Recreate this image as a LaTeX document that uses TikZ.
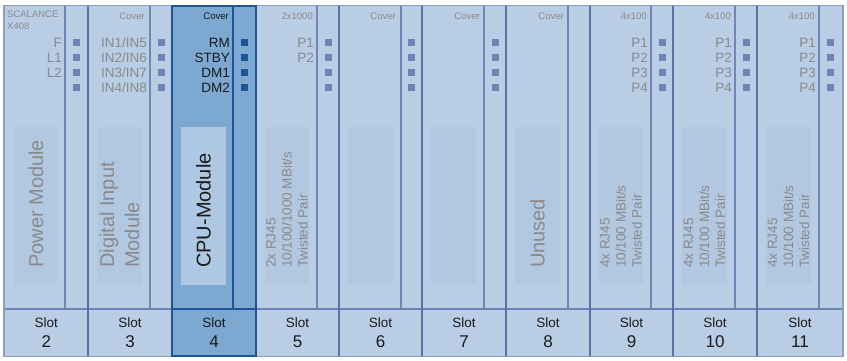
\documentclass[tikz,border=0pt]{standalone}
\usepackage{fontspec}
\setmainfont{Liberation Sans}
\definecolor{bgfill}{HTML}{B9CDE5}
\definecolor{lboxfill}{HTML}{B2C7E0}
\definecolor{sepcol}{HTML}{5B6FA6}
\definecolor{divcol}{HTML}{6F86B9}
\definecolor{framecol}{HTML}{8E9CC4}
\definecolor{ledcol}{HTML}{6F84B5}
\definecolor{graytext}{HTML}{8A8A8A}
\definecolor{darktext}{HTML}{1A1A1A}
\definecolor{cpufill}{HTML}{7CA8D2}
\definecolor{cpulbox}{HTML}{AEC8E3}
\definecolor{cpuborder}{HTML}{1E5597}
\begin{document}
\begin{tikzpicture}[x=1pt,y=-1pt,
  sepline/.style={draw=sepcol, line width=2pt},
  divline/.style={draw=divcol, line width=1.2pt},
  ledsq/.style={rectangle, fill=ledcol, minimum size=7pt, inner sep=0pt, draw=none},
  ledlbl/.style={anchor=east, inner sep=0pt, text=graytext, font=\fontsize{13.5}{15}\selectfont},
  toplbl/.style={anchor=east, inner sep=0pt, text=graytext, font=\fontsize{9.5}{11.5}\selectfont},
  biglbl/.style={rotate=90, anchor=west, inner sep=0pt, align=left, text=graytext, font=\fontsize{20}{25}\selectfont},
  smalllbl/.style={rotate=90, anchor=west, inner sep=0pt, align=left, text=graytext, font=\fontsize{13.5}{16}\selectfont},
  slotword/.style={inner sep=0pt, text=darktext, font=\fontsize{13.5}{16}\selectfont},
  slotnum/.style={inner sep=0pt, text=darktext, font=\fontsize{17}{20}\selectfont}
]
\useasboundingbox (0,0) rectangle (847,361);
% background and frame
\fill[bgfill] (4,6) rectangle (843,356);
% label boxes
\foreach \L/\D in {4.5/65, 88/150, 256/317, 339/401, 422/484, 506/568, 590/651, 673/735, 757/819}
  \fill[lboxfill] (\L+9,127) rectangle (\D-8,285);
% thin dividers
\foreach \D in {65,150,317,401,484,568,651,735,819}
  \draw[divline] (\D,6) -- (\D,309);
% horizontal line above slot row
\draw[divline] (4,309) -- (843,309);
% slot separators
\foreach \X in {88,172,256,339,422,506,590,673,757}
  \draw[sepline] (\X,6) -- (\X,356);
\draw[framecol, line width=1.6pt] (4,5.5) rectangle (843,356.5);

% CPU slot
\fill[cpufill] (172,6) rectangle (256,356);
\fill[cpulbox] (181,127) rectangle (226,285);
\draw[cpuborder, line width=2pt] (233,6) -- (233,309);
\draw[cpuborder, line width=2pt] (172,309) -- (256,309);
\draw[cpuborder, line width=2.6pt] (172,6) rectangle (256,356);

% LED squares
\foreach \s/\c in {2/76.5, 3/161, 5/328, 6/411.5, 7/495, 9/662, 10/746, 11/830.5}
  \foreach \r/\y in {1/42.7, 2/57.8, 3/72.9, 4/88}
    \node[ledsq] (led\s-\r) at (\c,\y) {};
\foreach \r/\y in {1/42.7, 2/57.8, 3/72.9, 4/88}
  \node[ledsq, fill=cpuborder] (led4-\r) at (244.5,\y) {};

% top labels
\node[anchor=north west, inner sep=0pt, align=left, text=graytext, font=\fontsize{9.5}{12}\selectfont] (top2) at (7,10.5) {SCALANCE\\X408};
\node[toplbl] (top3) at (145,16) {Cover};
\node[toplbl, text=darktext] (top4) at (229,16) {Cover};
\node[toplbl] (top5) at (313,16) {2x1000};
\node[toplbl] (top6) at (396,16) {Cover};
\node[toplbl] (top7) at (480,16) {Cover};
\node[toplbl] (top8) at (564,16) {Cover};
\node[toplbl] (top9) at (647,16) {4x100};
\node[toplbl] (top10) at (731,16) {4x100};
\node[toplbl] (top11) at (815,16) {4x100};

% LED labels
\foreach \r/\y/\t in {1/42.7/F, 2/57.8/L1, 3/72.9/L2}
  \node[ledlbl] (lbl2-\r) at (62,\y) {\t};
\foreach \r/\y/\t in {1/42.7/{IN1/IN5}, 2/57.8/{IN2/IN6}, 3/72.9/{IN3/IN7}, 4/88/{IN4/IN8}}
  \node[ledlbl] (lbl3-\r) at (147,\y) {\t};
\foreach \r/\y/\t in {1/42.7/RM, 2/57.8/STBY, 3/72.9/DM1, 4/88/DM2}
  \node[ledlbl, text=darktext] (lbl4-\r) at (230,\y) {\t};
\foreach \r/\y/\t in {1/42.7/P1, 2/57.8/P2}
  \node[ledlbl] (lbl5-\r) at (314,\y) {\t};
\foreach \s/\D in {9/651, 10/735, 11/819}
  \foreach \r/\y/\t in {1/42.7/P1, 2/57.8/P2, 3/72.9/P3, 4/88/P4}
    \node[ledlbl] (lbl\s-\r) at (\D-3,\y) {\t};

% rotated module labels
\node[biglbl] (mod2) at (36,268) {Power Module};
\node[biglbl] (mod3) at (119.5,268) {Digital Input\\Module};
\node[biglbl, text=darktext] (mod4) at (203.5,268) {CPU-Module};
\node[smalllbl] (mod5) at (287,268) {2x RJ45\\10/100/1000 MBit/s\\Twisted Pair};
\node[biglbl] (mod8) at (537.5,268) {Unused};
\node[smalllbl] (mod9) at (621,268) {4x RJ45\\10/100 MBit/s\\Twisted Pair};
\node[smalllbl] (mod10) at (704.5,268) {4x RJ45\\10/100 MBit/s\\Twisted Pair};
\node[smalllbl] (mod11) at (788.5,268) {4x RJ45\\10/100 MBit/s\\Twisted Pair};

% slot row
\foreach \n/\cx in {2/46.25, 3/130, 4/214, 5/297.5, 6/380.5, 7/464, 8/548, 9/631.5, 10/715, 11/800}{
  \node[slotword] (slotw\n) at (\cx,322.5) {Slot};
  \node[slotnum] (slotn\n) at (\cx,342) {\n};
}
\end{tikzpicture}
\end{document}
